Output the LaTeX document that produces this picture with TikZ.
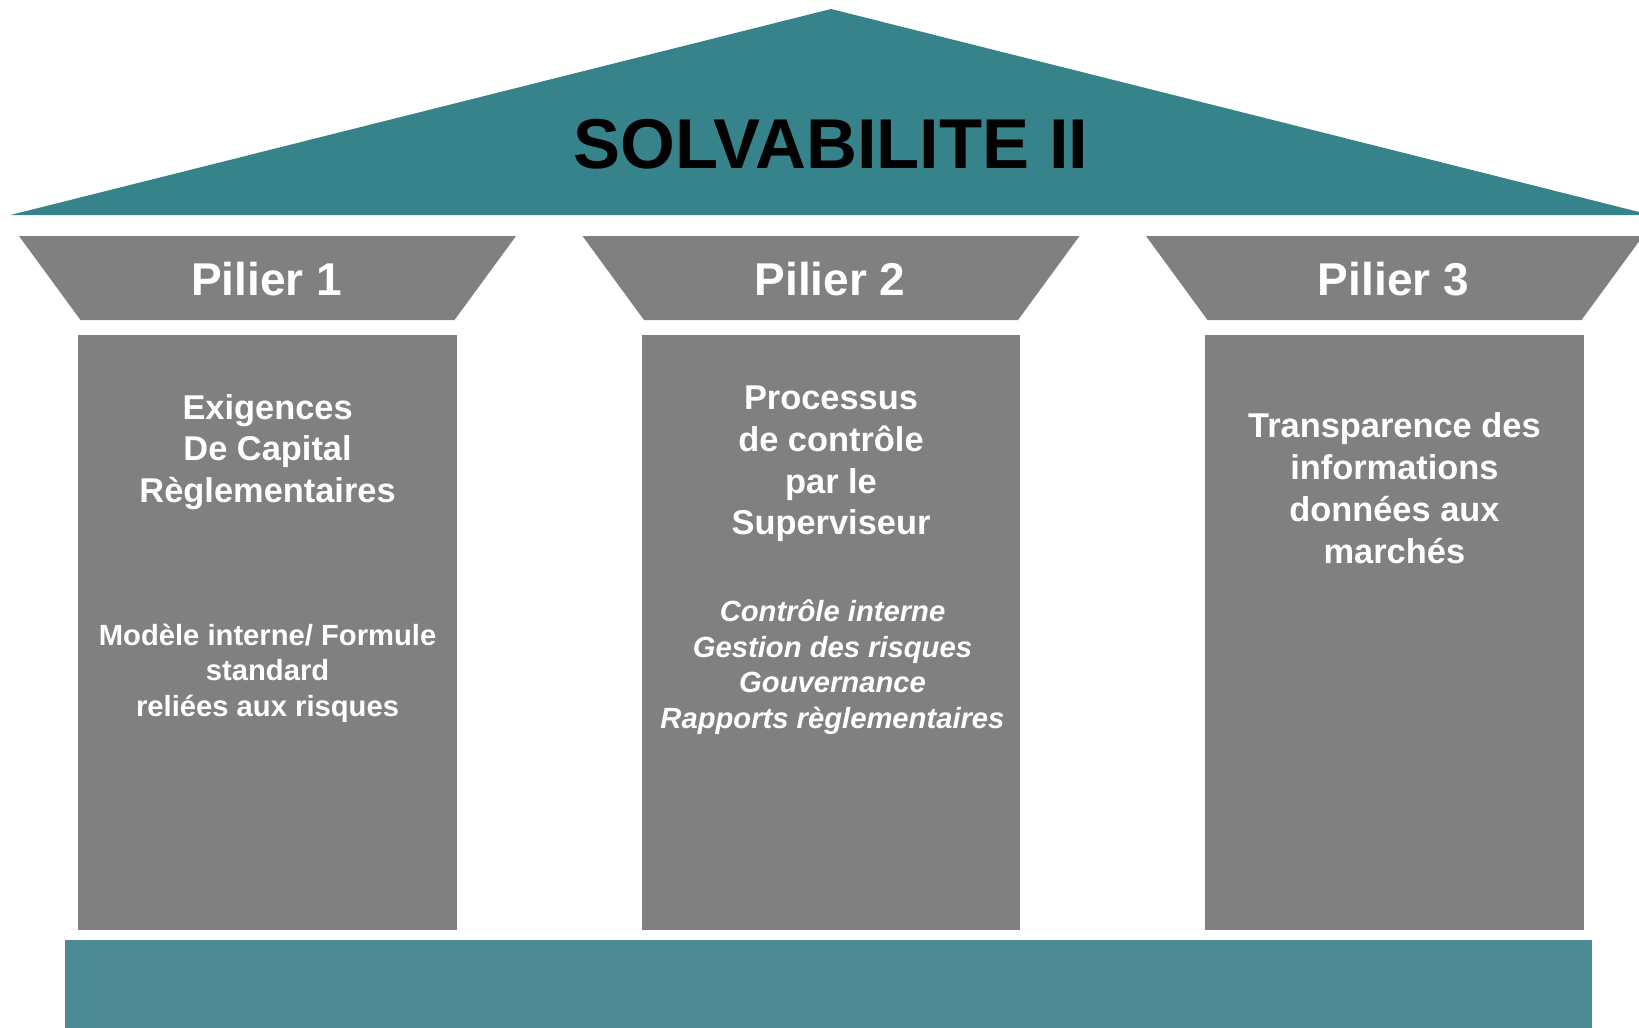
\documentclass[tikz,border=0pt]{standalone}
\usepackage{fontspec}
\setmainfont{Liberation Sans}
\definecolor{roofteal}{RGB}{54,131,139}
\definecolor{baseteal}{RGB}{77,137,148}
\definecolor{pillargray}{RGB}{128,128,128}
\begin{document}
\begin{tikzpicture}[x=1pt,y=-1pt,
  roof/.style={fill=roofteal},
  slab/.style={fill=baseteal},
  stone/.style={fill=pillargray},
  titletext/.style={font=\fontsize{70.5}{80}\selectfont\bfseries, text=black, inner sep=0pt, anchor=base},
  captext/.style={font=\fontsize{46}{55}\selectfont\bfseries, text=white, inner sep=0pt, anchor=base},
  bigtext/.style={font=\fontsize{34.4}{41.8}\selectfont\bfseries, text=white, inner sep=0pt, align=center},
  smalltext/.style={font=\fontsize{29.2}{35.5}\selectfont\bfseries, text=white, inner sep=0pt, align=center},
  italtext/.style={font=\fontsize{29.2}{35.5}\selectfont\bfseries\itshape, text=white, inner sep=0pt, align=center}]
\useasboundingbox (0,0) rectangle (1639,1028);
\fill[white] (0,0) rectangle (1639,1028);
% roof
\fill[roof] (10.5,215) -- (831,9) -- (1651,215) -- cycle;
% capitals
\fill[stone] (19,236) -- (516,236) -- (454.5,320) -- (80.5,320) -- cycle;
\fill[stone] (582.5,236) -- (1079.5,236) -- (1018,320) -- (644,320) -- cycle;
\fill[stone] (1146,236) -- (1643,236) -- (1581.5,320) -- (1207.5,320) -- cycle;
% shafts
\fill[stone] (78.4,334.5) rectangle (456.8,930);
\fill[stone] (641.8,334.5) rectangle (1020.2,930);
\fill[stone] (1205.2,334.5) rectangle (1583.6,930);
% base
\fill[slab] (64.8,939.7) rectangle (1592,1030);
% texts
\node[titletext] (title) at (831,168) {SOLVABILITE II};
\node[captext] (cap1) at (266.5,295) {Pilier 1};
\node[captext] (cap2) at (830,295) {Pilier 2};
\node[captext] (cap3) at (1393.4,295) {Pilier 3};
\node[bigtext] (p1a) at (267.6,452) {Exigences\\De Capital\\Règlementaires};
\node[smalltext] (p1b) at (267.6,673) {Modèle interne/ Formule\\standard\\reliées aux risques};
\node[bigtext] (p2a) at (831,464) {Processus\\de contrôle\\par le\\Superviseur};
\node[italtext] (p2b) at (832.5,667) {Contrôle interne\\Gestion des risques\\Gouvernance\\Rapports règlementaires};
\node[bigtext] (p3a) at (1394.4,488) {Transparence des\\informations\\données aux\\marchés};
\end{tikzpicture}
\end{document}
